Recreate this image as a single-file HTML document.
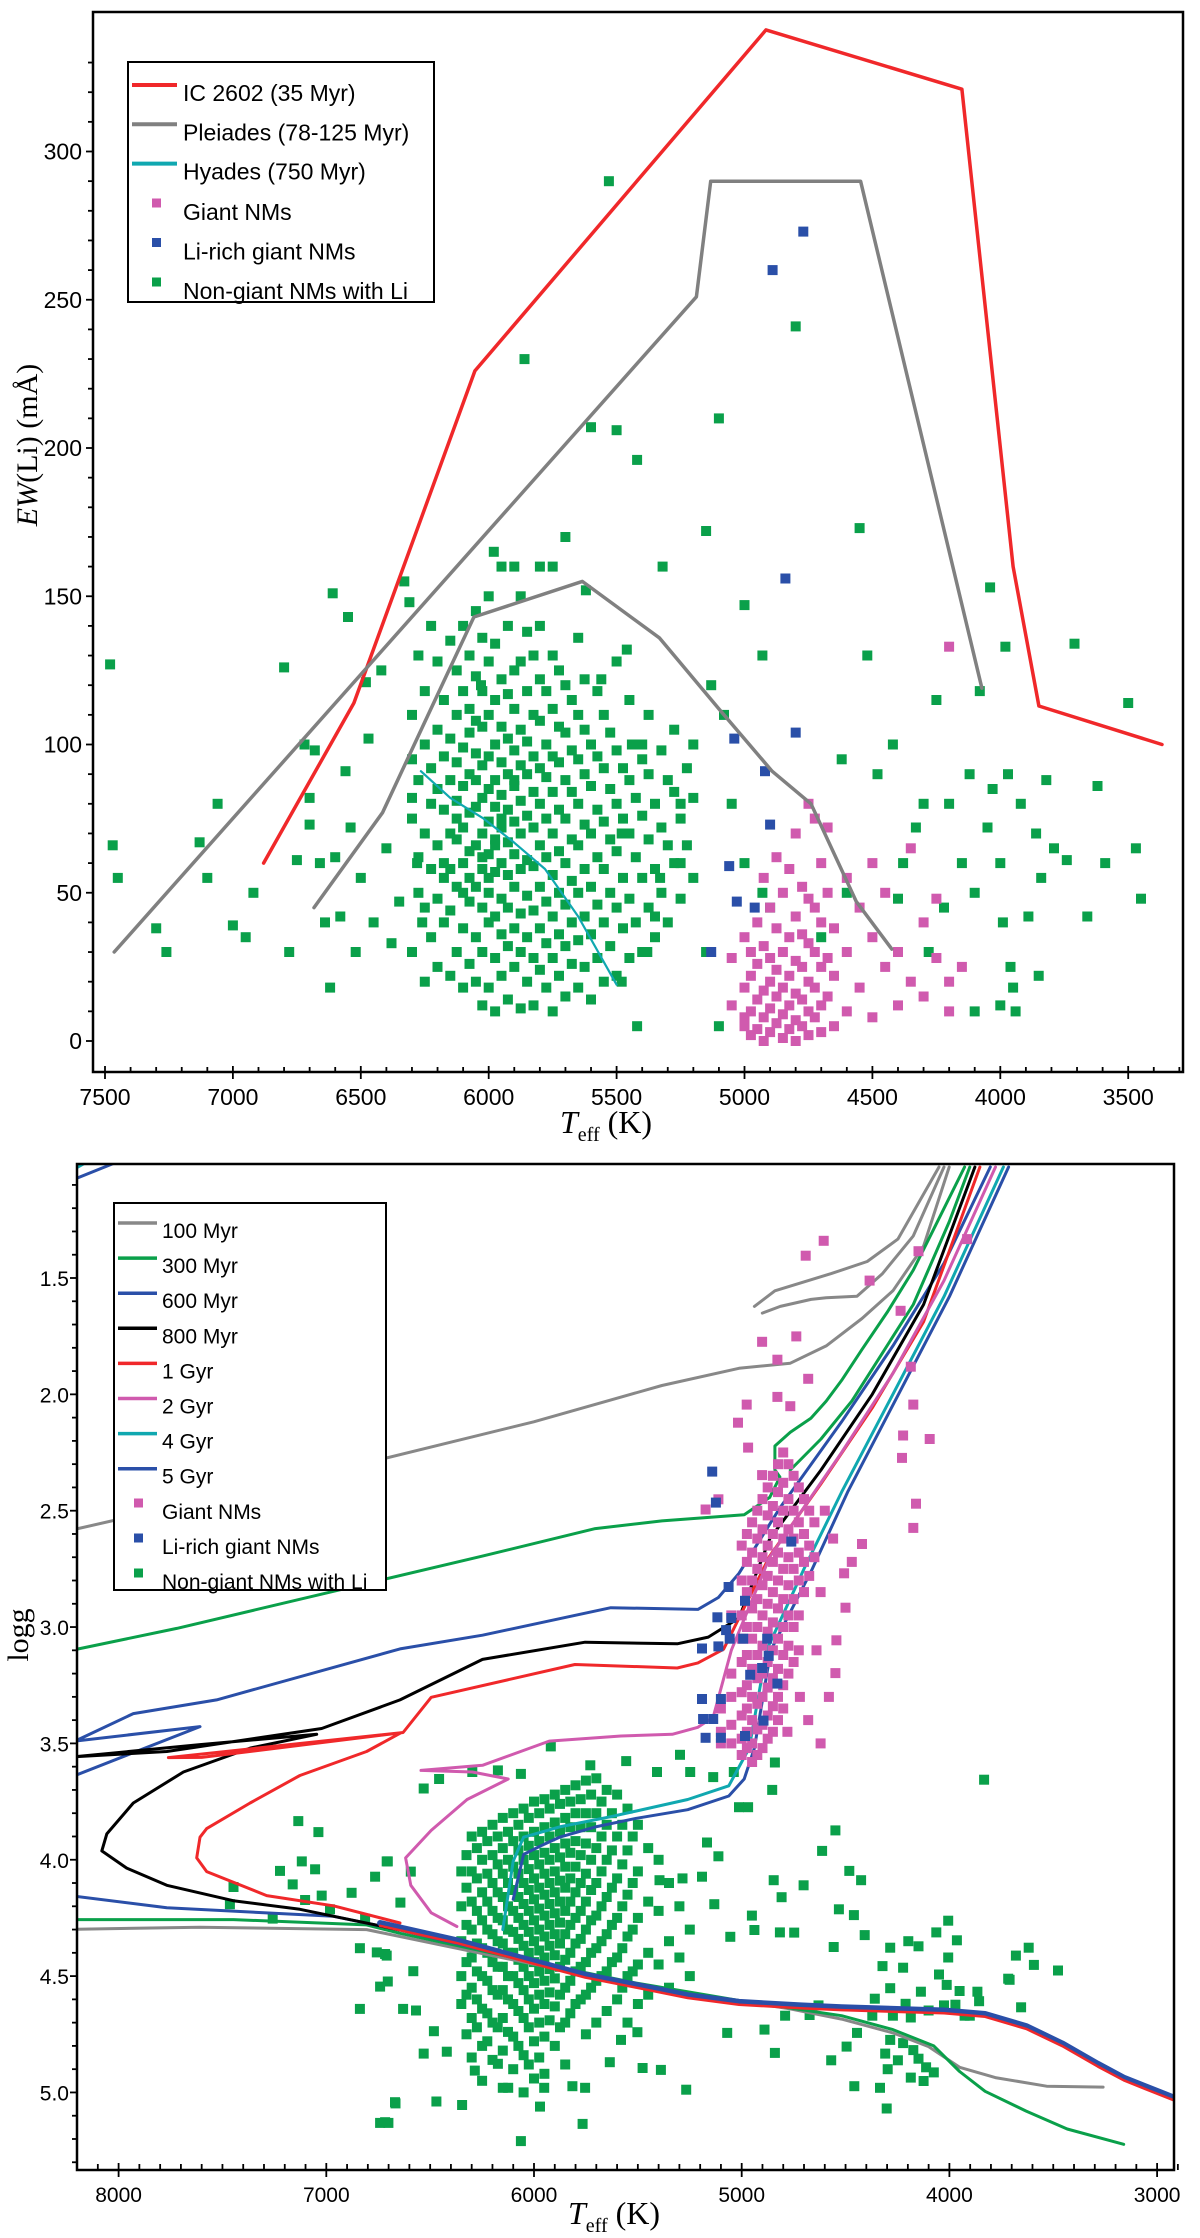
<!DOCTYPE html>
<html><head><meta charset="utf-8">
<style>
html,body{margin:0;padding:0;background:#fff;}
svg{display:block;font-family:"Liberation Sans",Arial,sans-serif;}
</style></head>
<body>
<svg id="fig" xmlns="http://www.w3.org/2000/svg" width="1200" height="2238" viewBox="0 0 1200 2238">
<defs>
<clipPath id="clipTop"><rect x="93" y="12" width="1090" height="1060"/></clipPath>
<clipPath id="clipBot"><rect x="77" y="1164" width="1097" height="1006"/></clipPath>
</defs>
<g id="topChart"></g>
<g id="botChart"></g>
</svg>
<script>
// ===== TOP CHART DATA =====
const topYTicks = [0, 50, 100, 150, 200, 250, 300];
const topXTicks = [7500, 7000, 6500, 6000, 5500, 5000, 4500, 4000, 3500];
const ic2602T = [6880, 6527, 6054, 4916, 4150, 3950, 3849, 3368];
const ic2602EW = [60, 114, 226, 341, 321, 160, 113, 100];
const pleiadesUpperT = [7464, 5188, 5132, 4546, 4072];
const pleiadesUpperEW = [30, 251, 290, 290, 119];
const pleiadesLowerT = [6683, 6415, 6237, 6058, 5634, 5333, 5100, 4892, 4740, 4563, 4424];
const pleiadesLowerEW = [45, 77, 110, 143, 155, 136, 112, 91, 80, 47, 31];
const hyadesT = [6265, 6150, 6020, 5902, 5780, 5650, 5500];
const hyadesEW = [91, 82, 75, 67, 58, 42, 19];
const topGreenScatter = [[7480,127],[7470,66],[7450,55],[7300,38],[7260,30],[7130,67],[7100,55],[7060,80],[7000,39],[6950,35],[6920,50],[6800,126],[6780,30],[6750,61],[6720,100],[6700,73],[6700,82],[6680,98],[6660,60],[6640,40],[6620,18],[6610,151],[6600,62],[6580,42],[6560,91],[6550,143],[6540,72],[6520,30],[6500,55],[6480,121],[6470,102],[6450,40],[6420,125],[6400,65],[6380,33],[6350,47],[6330,155],[6310,148],[6300,82],[6280,60],[6260,40],[5860,230],[5750,160],[5600,207],[5530,290],[5500,206],[5420,196],[5400,100],[5320,160],[5250,80],[5150,172],[5100,210],[5080,110],[5000,147],[4930,130],[4800,241],[4600,50],[4550,173],[4520,130],[4480,90],[4400,48],[4380,60],[4300,80],[4250,115],[4200,80],[4150,60],[4120,90],[4100,50],[4080,118],[4050,72],[4040,153],[4030,85],[4000,60],[3990,40],[3980,133],[3960,25],[3950,18],[3920,80],[3890,42],[3860,70],[3850,22],[3840,55],[3820,88],[3790,65],[3740,61],[3710,134],[3660,42],[3620,86],[3590,60],[3500,114],[3470,65],[3450,48],[4100,10],[4000,12],[3940,10],[3970,90],[4220,45],[4280,30],[4330,72],[4420,100],[4620,95],[4700,35],[4900,45],[5100,5],[5150,30],[5130,120],[5000,60],[4930,50],[5050,80],[5200,100],[5250,60],[5350,42],[5420,5],[5480,20],[5380,30],[5440,100],[5460,132],[5560,122],[5620,152],[5700,170],[5800,160],[5900,160],[5980,165],[6030,120],[5480,70],[5330,55]];
const topGreenCore = [[6300,[30,75,110,95]],[6275,[50,88,130,62]],[6250,[20,70,100,45,118]],[6225,[35,58,92,140,80]],[6200,[25,66,85,105,48,128]],[6175,[40,55,78,96,115,60]],[6150,[22,44,70,88,102,135,58]],[6125,[30,52,68,81,94,110,125,75]],[6100,[18,38,60,72,86,99,118,140,50]],[6075,[26,47,64,77,90,104,112,130,55]],[6050,[20,35,52,66,79,88,97,108,123,145]],[6025,[12,30,45,58,70,82,93,106,118,136,62]],[6000,[18,40,50,63,74,85,96,110,128,150,55]],[5975,[10,28,42,57,68,79,88,100,115,134,66]],[5950,[22,36,48,60,72,83,94,106,122,160,75]],[5925,[14,32,45,56,67,78,90,102,117,140]],[5900,[25,38,52,63,74,86,98,112,125,88]],[5875,[11,30,43,58,70,81,93,105,128,150]],[5850,[20,35,49,61,76,90,101,118,138]],[5825,[12,28,44,59,72,84,96,110,130]],[5800,[24,38,52,66,80,92,108,122,140]],[5775,[18,33,47,62,75,89,100,118]],[5750,[10,28,42,56,70,84,96,112,130]],[5725,[22,36,50,64,78,94,106,125]],[5700,[15,32,46,60,75,88,104,120]],[5675,[26,40,54,68,84,98,115]],[5650,[18,34,50,66,80,95,110,136]],[5625,[25,42,58,73,90,105,122]],[5600,[14,36,52,70,86,100]],[5575,[28,46,62,78,96,118]],[5550,[20,40,58,74,92,110]],[5525,[32,50,68,85,104]],[5500,[22,45,64,80,98,128]],[5475,[38,55,75,92]],[5450,[28,48,70,88,115]],[5425,[40,62,82,100]],[5400,[30,55,76,95]],[5375,[45,68,90,110]],[5350,[35,58,80]],[5325,[50,72,98]],[5300,[40,66,88]],[5275,[60,84,105]],[5250,[48,75]],[5225,[66,92]],[5200,[55,82]]];
const topGiants = [[5050,[12,28]],[5000,[5,18,35,8]],[4975,[2,10,22,30]],[4950,[4,14,26,40]],[4925,[0,8,17,32,55]],[4900,[3,11,20,28,45]],[4875,[6,15,24,38,62]],[4850,[1,9,18,30,50]],[4825,[4,12,22,35,58]],[4800,[0,7,16,27,42,70]],[4775,[5,14,25,36,52]],[4750,[2,10,20,33,48,80]],[4725,[8,18,30,45,75]],[4700,[3,12,25,40,60]],[4675,[15,28,50,72]],[4650,[5,22,38]],[4600,[10,30,55]],[4550,[18,45]],[4500,[8,35,60]],[4450,[25,50]],[4400,[12,30]],[4350,[20,65]],[4300,[15,40]],[4250,[28,48]],[4200,[133,20,10]],[4150,[25]]];
const topLiRich = [[4770,273],[4890,260],[4840,156],[4800,104],[5040,102],[4920,91],[4900,73],[5060,59],[5030,47],[4960,45],[5130,30]];

// ===== BOTTOM CHART DATA =====
const botYTicks = [1.5, 2.0, 2.5, 3.0, 3.5, 4.0, 4.5, 5.0];
const botXTicks = [8000, 7000, 6000, 5000, 4000, 3000];
const msBundleT = [6741, 6371, 6001, 5754, 5507, 5260, 5013, 4717, 4519, 4272, 4026, 3828, 3630, 3457, 3285, 3161, 3038, 2890];
const msBundleG = [4.272, 4.346, 4.435, 4.494, 4.538, 4.582, 4.611, 4.626, 4.634, 4.641, 4.648, 4.663, 4.715, 4.789, 4.877, 4.936, 4.98, 5.032];
const iso100UpperT = [8210, 6741, 6001, 5384, 5013, 4766, 4593, 4421, 4272, 4124, 4001];
const iso100UpperG = [2.58, 2.28, 2.118, 1.962, 1.888, 1.866, 1.792, 1.674, 1.555, 1.363, 1.023];
const iso100HookT = [4901, 4814, 4666, 4593, 4445, 4322, 4174, 4026];
const iso100HookG = [1.651, 1.622, 1.592, 1.585, 1.578, 1.481, 1.319, 1.023];
const iso100Hook2T = [4939, 4840, 4569, 4396, 4248, 4050];
const iso100Hook2G = [1.622, 1.555, 1.481, 1.429, 1.333, 1.023];
const iso100LowerT = [8210, 7608, 6806, 6645, 6001, 5507, 4766, 4519, 4272, 4100, 3951, 3779, 3532, 3260];
const iso100LowerG = [4.299, 4.29, 4.30, 4.33, 4.449, 4.538, 4.641, 4.685, 4.744, 4.803, 4.892, 4.936, 4.973, 4.977];
const iso300UpperT = [8210, 7720, 6741, 6248, 5705, 5384, 4988, 4865, 4816, 4840, 4840, 4766, 4667, 4593, 4519, 4421, 4297, 4174, 4075, 3927];
const iso300UpperG = [3.097, 3.006, 2.799, 2.695, 2.577, 2.544, 2.517, 2.443, 2.355, 2.325, 2.222, 2.163, 2.103, 2.029, 1.94, 1.807, 1.644, 1.466, 1.289, 1.023];
const iso300Upper2T = [4766, 4618, 4470, 4322, 4174, 4001, 3902];
const iso300Upper2G = [2.325, 2.192, 2.029, 1.822, 1.614, 1.259, 1.023];
const iso300LowerT = [8210, 7447, 6806, 6645, 6001, 5507, 5013, 4519, 4272, 4075, 3951, 3828, 3630, 3433, 3161];
const iso300LowerG = [4.257, 4.257, 4.28, 4.316, 4.44, 4.53, 4.605, 4.67, 4.73, 4.80, 4.91, 4.995, 5.08, 5.157, 5.223];
const iso600T = [8210, 7608, 8210, 7929, 7528, 6645, 6248, 5630, 5211, 5112, 5013, 4816, 4519, 4272, 4026, 3803];
const iso600G = [3.638, 3.428, 3.49, 3.372, 3.313, 3.094, 3.035, 2.917, 2.924, 2.873, 2.769, 2.488, 2.118, 1.792, 1.437, 1.023];
const iso600LowerT = [8210, 7768, 6966, 6645, 6371, 6001];
const iso600LowerG = [4.157, 4.206, 4.243, 4.302, 4.36, 4.44];
const iso800T = [6645, 7127, 7448, 7768, 7961, 8081, 8057, 7929, 7688, 7367, 7046, 7608, 8210, 7768, 7022, 6645, 6248, 5754, 5310, 5161, 5013, 4865, 4618, 4371, 4124, 3877];
const iso800G = [4.302, 4.213, 4.176, 4.11, 4.036, 3.962, 3.889, 3.756, 3.623, 3.52, 3.461, 3.505, 3.557, 3.535, 3.436, 3.313, 3.139, 3.065, 3.072, 3.043, 2.961, 2.621, 2.325, 2.0, 1.614, 1.023];
const iso1GyrT = [6645, 6966, 7287, 7576, 7624, 7608, 7576, 7367, 7127, 6806, 6640, 7760, 7600, 6630, 6495, 5803, 5310, 5211, 5087, 4865, 4618, 4371, 4124, 3853];
const iso1GyrG = [4.272, 4.198, 4.154, 4.051, 3.992, 3.903, 3.866, 3.756, 3.638, 3.535, 3.454, 3.561, 3.56, 3.453, 3.302, 3.161, 3.176, 3.154, 3.095, 2.695, 2.384, 2.058, 1.688, 1.023];
const iso2GyrT = [6371, 6495, 6593, 6618, 6495, 6322, 6124, 6297, 6544, 6248, 5927, 5581, 5334, 5211, 5137, 5050, 4865, 4519, 4272, 4026, 3778];
const iso2GyrG = [4.287, 4.228, 4.11, 3.992, 3.874, 3.741, 3.653, 3.623, 3.616, 3.594, 3.49, 3.468, 3.461, 3.431, 3.387, 3.1, 2.7, 2.25, 1.91, 1.511, 1.023];
const iso4GyrT = [6150, 6100, 6050, 5877, 5630, 5260, 5062, 4964, 4880, 4700, 4519, 4272, 4026, 3740];
const iso4GyrG = [4.3, 4.006, 3.903, 3.859, 3.815, 3.741, 3.682, 3.52, 3.1, 2.75, 2.42, 2.0, 1.58, 1.023];
const iso5GyrT = [6100, 6050, 5951, 5877, 5704, 5507, 5260, 5062, 4988, 4939, 4860, 4660, 4490, 4245, 4000, 3715];
const iso5GyrG = [4.17, 3.977, 3.933, 3.903, 3.859, 3.822, 3.785, 3.726, 3.653, 3.52, 3.1, 2.75, 2.42, 2.0, 1.58, 1.023];
const cornerCyanT = [8210, 8150];
const cornerCyanG = [1.03, 1.0];
const cornerBlueT = [8210, 8025];
const cornerBlueG = [1.074, 1.008];
const botGiantScatter = [[4605,1.34],[4692,1.404],[4149,1.385],[3915,1.333],[4384,1.511],[4235,1.641],[4902,1.774],[4737,1.751],[4828,1.851],[4680,1.933],[4976,2.044],[4828,2.011],[4766,2.051],[5018,2.122],[4969,2.229],[4174,2.044],[4186,1.881],[4223,2.177],[4095,2.192],[4161,2.47],[4174,2.574],[4228,2.273],[4421,2.643],[4470,2.72],[4507,2.769],[4544,3.057],[4549,3.198],[4500,2.917],[5174,2.495],[5112,2.451],[4902,2.347],[4600,2.5],[4560,2.62],[4620,2.85],[4580,3.3],[4640,3.1],[4680,3.4],[4720,3.3],[4780,3.45],[4620,3.5]];
const botGiantCore = [[5100,[3.35,3.45,3.5]],[5050,[2.95,3.2,3.3,3.42,3.5]],[5000,[2.65,2.8,2.95,3.05,3.15,3.28,3.38,3.48,3.55]],[4975,[2.6,2.72,2.85,3.0,3.12,3.25,3.35,3.45,3.52]],[4950,[2.55,2.68,2.8,2.92,3.05,3.18,3.3,3.4,3.5,3.58]],[4925,[2.5,2.62,2.75,2.88,3.0,3.12,3.22,3.33,3.44,3.55]],[4900,[2.45,2.58,2.7,2.82,2.95,3.08,3.2,3.3,3.42,3.52]],[4875,[2.4,2.52,2.65,2.78,2.9,3.02,3.15,3.26,3.38,3.48]],[4850,[2.35,2.48,2.6,2.72,2.85,2.98,3.1,3.22,3.34,3.45]],[4825,[2.3,2.42,2.55,2.68,2.8,2.92,3.05,3.18,3.3,3.4]],[4800,[2.25,2.38,2.5,2.62,2.75,2.88,3.0,3.12,3.25,3.35]],[4775,[2.3,2.45,2.58,2.7,2.82,2.95,3.08,3.2]],[4750,[2.35,2.5,2.62,2.75,2.88,3.0,3.15]],[4725,[2.4,2.55,2.68,2.8,2.95,3.1]],[4700,[2.45,2.6,2.72,2.85]],[4675,[2.5,2.65,2.78]],[4650,[2.55,2.7]]];
const botLiRich = [[5142,2.332],[5124,2.465],[4761,2.633],[5063,2.828],[4984,2.887],[5117,2.958],[5050,2.961],[5075,3.013],[5058,3.05],[4993,3.05],[5191,3.092],[5112,3.083],[4877,3.05],[4870,3.124],[4902,3.176],[4959,3.205],[4828,3.243],[5191,3.309],[5100,3.309],[5186,3.395],[5137,3.395],[5174,3.476],[5100,3.476],[4984,3.468],[4895,3.402]];
const botGreenScatter = [[7135,3.834],[7038,3.881],[7118,4.007],[7223,4.048],[7162,4.106],[7054,4.041],[7447,4.117],[7464,4.191],[7102,4.173],[7022,4.154],[6982,4.213],[7258,4.253],[6878,4.142],[6765,4.073],[6709,4.007],[6813,4.253],[6838,4.38],[6757,4.398],[6709,4.412],[6741,4.545],[6838,4.641],[6669,5.042],[6741,5.131],[6701,5.131],[5729,3.594],[5556,3.576],[5297,3.549],[5919,3.513],[6174,3.616],[6063,3.631],[6297,3.623],[6457,3.653],[6531,3.694],[5408,3.623],[5248,3.623],[5137,3.645],[5038,3.623],[4840,3.582],[4853,3.7],[4969,3.774],[5013,3.774],[3833,3.656],[4549,3.874],[4613,3.962],[4482,4.048],[4425,4.088],[4846,4.088],[4702,4.11],[4808,4.161],[4532,4.213],[4460,4.238],[4951,4.24],[5132,4.191],[5191,4.073],[5285,4.08],[5396,4.088],[5112,3.985],[5167,3.926],[4006,4.262],[4063,4.312],[3964,4.346],[4408,4.324],[4747,4.313],[4816,4.312],[4939,4.302],[5055,4.331],[4198,4.35],[4149,4.372],[4285,4.378],[4557,4.375],[3680,4.412],[3618,4.378],[3593,4.452],[3477,4.476],[3717,4.511],[4006,4.42],[4050,4.493],[4013,4.538],[3951,4.564],[3865,4.567],[3857,4.608],[3927,4.67],[4026,4.626],[4137,4.567],[4211,4.619],[4285,4.552],[4322,4.457],[4223,4.464],[4359,4.597],[4371,4.67],[4272,4.67],[4186,4.678],[4100,4.648],[3971,4.623],[3902,4.67],[3655,4.634],[3710,4.516],[4285,4.774],[4223,4.788],[4174,4.818],[4309,4.833],[4248,4.862],[4149,4.855],[4112,4.892],[4297,4.9],[4186,4.936],[4075,4.914],[4334,4.98],[4124,4.951],[4458,4.973],[4302,5.069],[4569,4.862],[4495,4.803],[4445,4.744],[4840,4.83],[4890,4.73],[4791,4.67],[4673,4.667],[4630,4.626],[5070,4.744],[5267,4.988],[5389,4.903],[5477,4.895],[5635,4.87],[5502,4.741],[5581,4.774],[5754,4.98],[5815,4.973],[5951,4.98],[5971,5.061],[5766,5.135],[6063,5.209],[6346,5.054],[6470,5.039],[6667,5.047],[6717,5.128],[6174,4.877],[6124,4.98],[6285,4.906],[6420,4.825],[6531,4.833],[6482,4.737],[6630,4.641],[6568,4.648],[6704,4.523],[6581,4.479],[6717,4.405],[6643,4.184],[6704,4.007],[6593,4.051]];
const botGreenCore = [[6350,[4.05,4.2,4.35,4.5,4.62]],[6325,[3.98,4.12,4.28,4.44,4.58,4.75]],[6300,[3.9,4.05,4.18,4.3,4.42,4.55,4.68,4.85]],[6275,[3.95,4.08,4.22,4.36,4.48,4.6,4.72]],[6250,[3.88,4.0,4.14,4.26,4.38,4.5,4.64,4.8,4.95]],[6225,[3.92,4.06,4.18,4.3,4.4,4.52,4.66,4.78]],[6200,[3.85,3.98,4.1,4.22,4.32,4.44,4.56,4.7,4.86]],[6175,[3.9,4.02,4.14,4.25,4.35,4.46,4.58,4.72]],[6150,[3.82,3.95,4.06,4.16,4.26,4.36,4.46,4.56,4.68,4.82,4.98]],[6125,[3.88,4.0,4.1,4.2,4.3,4.4,4.5,4.6,4.74]],[6100,[3.8,3.92,4.03,4.13,4.22,4.31,4.4,4.5,4.62,4.76,4.9]],[6075,[3.85,3.96,4.06,4.16,4.25,4.34,4.43,4.53,4.65,4.8]],[6050,[3.78,3.9,4.0,4.1,4.19,4.28,4.37,4.46,4.56,4.68,4.84,5.0]],[6025,[3.82,3.94,4.04,4.13,4.22,4.31,4.4,4.5,4.6,4.72,4.88]],[6000,[3.75,3.88,3.98,4.08,4.17,4.26,4.35,4.44,4.53,4.64,4.78,4.94]],[5975,[3.8,3.92,4.02,4.12,4.21,4.3,4.39,4.48,4.58,4.7,4.85]],[5950,[3.74,3.86,3.97,4.06,4.15,4.24,4.33,4.42,4.52,4.62,4.76,4.92]],[5925,[3.78,3.9,4.0,4.1,4.19,4.28,4.37,4.47,4.57,4.69]],[5900,[3.72,3.84,3.95,4.05,4.14,4.23,4.32,4.41,4.51,4.63,4.8]],[5875,[3.76,3.88,3.99,4.09,4.18,4.27,4.36,4.46,4.58,4.72]],[5850,[3.7,3.82,3.93,4.03,4.12,4.22,4.32,4.43,4.55,4.7,4.88]],[5825,[3.75,3.86,3.97,4.08,4.18,4.28,4.4,4.52,4.66]],[5800,[3.68,3.8,3.92,4.03,4.14,4.25,4.36,4.48,4.62]],[5775,[3.74,3.86,3.98,4.1,4.22,4.34,4.46,4.6]],[5750,[3.66,3.8,3.93,4.06,4.18,4.3,4.44,4.58,4.75]],[5725,[3.72,3.86,4.0,4.13,4.26,4.4,4.55]],[5700,[3.65,3.8,3.95,4.1,4.24,4.38,4.52,4.7]],[5675,[3.75,3.9,4.05,4.2,4.35,4.5]],[5650,[3.7,3.85,4.0,4.16,4.32,4.48,4.65]],[5625,[3.8,3.96,4.12,4.28,4.44]],[5600,[3.72,3.9,4.08,4.25,4.42,4.6]],[5575,[3.85,4.02,4.2,4.38,4.55]],[5550,[3.78,3.96,4.15,4.33,4.5,4.7]],[5525,[3.9,4.1,4.3,4.48]],[5500,[3.85,4.05,4.25,4.45,4.62]],[5450,[3.95,4.18,4.4,4.58]],[5400,[4.0,4.22,4.45]],[5350,[4.1,4.35,4.55]],[5300,[4.2,4.42]],[5250,[4.3,4.5]]];

const NS = 'http://www.w3.org/2000/svg';
const GREEN = '#0aa04a', PINK = '#d05aae', BLUE = '#2a4fa8';
const MS = 10;
function mk(tag, attrs, parent){ const e = document.createElementNS(NS, tag); for (const k in attrs) e.setAttribute(k, attrs[k]); parent.appendChild(e); return e; }

function xTop(T){ return 105 + (7500 - T) * 0.2558; }
function yTop(v){ return 1041 - 2.965 * v; }
function xBot(T){ return 118.6 + (8000 - T) * 0.2077; }
function yBot(g){ return 1278 + (g - 1.5) * 232.7; }

function drawLine(parent, Ts, Vs, fx, fy, color, w, name){
  const pts = Ts.map((t,i)=> fx(t).toFixed(1)+','+fy(Vs[i]).toFixed(1)).join(' ');
  const p = mk('polyline', {points: pts, fill:'none', stroke: color, 'stroke-width': w, 'stroke-linejoin':'round', 'stroke-linecap':'round'}, parent);
  
  
}
function drawSq(parent, T, v, fx, fy, color, s, name){
  const r = mk('rect', {x:(fx(T)-s/2).toFixed(1), y:(fy(v)-s/2).toFixed(1), width:s, height:s, fill:color}, parent);
  
  
}
function txt(parent, x, y, s, attrs, name){
  const t = mk('text', Object.assign({x:x, y:y}, attrs), parent);
  t.textContent = s;
  
  
  return t;
}
function tspan(parent, s, attrs){
  const t = mk('tspan', attrs, parent);
  t.textContent = s;
  return t;
}

// ===== TOP CHART =====
const topG = document.getElementById('topChart');
const topPlot = mk('g', {'clip-path':'url(#clipTop)'}, topG);


topGreenScatter.forEach(p => drawSq(topPlot, p[0], p[1], xTop, yTop, GREEN, MS, 'nongiant-point'));
topGreenCore.forEach(c => c[1].forEach(v => drawSq(topPlot, c[0], v, xTop, yTop, GREEN, MS, 'nongiant-point')));
topGiants.forEach(c => c[1].forEach(v => drawSq(topPlot, c[0], v, xTop, yTop, PINK, MS, 'giant-point')));
topLiRich.forEach(p => drawSq(topPlot, p[0], p[1], xTop, yTop, BLUE, MS, 'li-rich-giant-point'));
drawLine(topPlot, ic2602T, ic2602EW, xTop, yTop, '#f0282a', 3.5, 'ic2602-line');
drawLine(topPlot, pleiadesUpperT, pleiadesUpperEW, xTop, yTop, '#808080', 3.5, 'pleiades-upper-line');
drawLine(topPlot, pleiadesLowerT, pleiadesLowerEW, xTop, yTop, '#808080', 3.5, 'pleiades-lower-line');
drawLine(topPlot, hyadesT, hyadesEW, xTop, yTop, '#10a8b0', 2.2, 'hyades-line');

const topFrame = mk('rect', {x:93, y:12, width:1090, height:1060, fill:'none', stroke:'#000', 'stroke-width':2.5}, topG);


for (let v = 0; v <= 330; v += 10) {
  const maj = v % 50 === 0;
  const tk = mk('line', {x1: maj ? 86 : 88, x2: 93, y1: yTop(v), y2: yTop(v), stroke:'#000', 'stroke-width':1.8}, topG);
  
  
}
topYTicks.forEach(v => txt(topG, 82, yTop(v)+8, String(v), {'font-size':23, 'text-anchor':'end'}, 'y-tick-label'));
for (let T = 7500; T >= 3300; T -= 100) {
  const maj = T % 500 === 0;
  const tk = mk('line', {x1: xTop(T), x2: xTop(T), y1: maj ? 1066 : 1067, y2: maj ? 1079 : 1072, stroke:'#000', 'stroke-width':1.8}, topG);
  
  
}
topXTicks.forEach(T => txt(topG, xTop(T), 1105, String(T), {'font-size':23, 'text-anchor':'middle'}, 'x-tick-label'));
const ytT = txt(topG, 0, 0, '', {'font-size':30, 'font-family':'"Liberation Serif",serif', transform:'translate(37,445) rotate(-90)', 'text-anchor':'middle'}, 'y-axis-title');
tspan(ytT, 'EW', {'font-style':'italic'});
tspan(ytT, '(Li) (mÅ)', {});
const xtT = txt(topG, 560, 1133, '', {'font-size':32, 'font-family':'"Liberation Serif",serif'}, 'x-axis-title');
tspan(xtT, 'T', {'font-style':'italic'});
tspan(xtT, 'eff', {'font-size':20, dy:8});
tspan(xtT, ' (K)', {dy:-8});

const tleg = mk('g', {}, topG);


mk('rect', {x:128, y:62, width:306, height:240, fill:'#fff', stroke:'#000', 'stroke-width':2}, tleg);
const topLegLines = [['#f0282a','IC 2602 (35 Myr)'],['#808080','Pleiades (78-125 Myr)'],['#10a8b0','Hyades (750 Myr)']];
topLegLines.forEach((e,i) => {
  const y = 85 + i*39.3;
  const l = mk('line', {x1:132, x2:177, y1:y, y2:y, stroke:e[0], 'stroke-width':4}, tleg);
  
  
  txt(tleg, 183, y+16, e[1], {'font-size':23}, 'legend-entry');
});
const topLegPts = [[PINK,'Giant NMs'],[BLUE,'Li-rich giant NMs'],[GREEN,'Non-giant NMs with Li']];
topLegPts.forEach((e,i) => {
  const y = 203 + i*39.5;
  const r = mk('rect', {x:152, y:y-4.5, width:9, height:9, fill:e[0]}, tleg);
  
  
  txt(tleg, 183, y+17, e[1], {'font-size':23}, 'legend-entry');
});

// ===== BOTTOM CHART =====
const botG = document.getElementById('botChart');
const botPlot = mk('g', {'clip-path':'url(#clipBot)'}, botG);


botGreenCore.forEach(c => c[1].forEach(g => drawSq(botPlot, c[0], g, xBot, yBot, GREEN, MS, 'nongiant-point')));
botGreenScatter.forEach(p => drawSq(botPlot, p[0], p[1], xBot, yBot, GREEN, MS, 'nongiant-point'));
drawLine(botPlot, iso100UpperT, iso100UpperG, xBot, yBot, '#888', 3, 'iso-100myr-upper');
drawLine(botPlot, iso100HookT, iso100HookG, xBot, yBot, '#888', 3, 'iso-100myr-hook');
drawLine(botPlot, iso100Hook2T, iso100Hook2G, xBot, yBot, '#888', 3, 'iso-100myr-hook2');
drawLine(botPlot, iso100LowerT, iso100LowerG, xBot, yBot, '#888', 3, 'iso-100myr-lower');
drawLine(botPlot, iso300UpperT, iso300UpperG, xBot, yBot, '#0aa04a', 3, 'iso-300myr-upper');
drawLine(botPlot, iso300Upper2T, iso300Upper2G, xBot, yBot, '#0aa04a', 3, 'iso-300myr-upper2');
drawLine(botPlot, iso300LowerT, iso300LowerG, xBot, yBot, '#0aa04a', 3, 'iso-300myr-lower');
drawLine(botPlot, iso600T, iso600G, xBot, yBot, '#2a4fa8', 3, 'iso-600myr');
drawLine(botPlot, iso600LowerT, iso600LowerG, xBot, yBot, '#2a4fa8', 3, 'iso-600myr-lower');
drawLine(botPlot, cornerBlueT, cornerBlueG, xBot, yBot, '#2a4fa8', 3, 'iso-corner-blue');
drawLine(botPlot, cornerCyanT, cornerCyanG, xBot, yBot, '#10a8b0', 3, 'iso-corner-cyan');
drawLine(botPlot, iso800T, iso800G, xBot, yBot, '#000', 3, 'iso-800myr');
drawLine(botPlot, iso1GyrT, iso1GyrG, xBot, yBot, '#f0282a', 3, 'iso-1gyr');
drawLine(botPlot, iso2GyrT, iso2GyrG, xBot, yBot, '#d05aae', 3, 'iso-2gyr');
drawLine(botPlot, iso4GyrT, iso4GyrG, xBot, yBot, '#10a8b0', 3, 'iso-4gyr');
drawLine(botPlot, iso5GyrT, iso5GyrG, xBot, yBot, '#2a4fa8', 3, 'iso-5gyr');
drawLine(botPlot, msBundleT, msBundleG, xBot, yBot, '#2a4fa8', 6, 'iso-main-sequence-blue');
drawLine(botPlot, msBundleT, msBundleG.map(g => g + 0.012), xBot, yBot, '#f0282a', 2.5, 'iso-main-sequence-red');
botGiantCore.forEach(c => c[1].forEach(g => drawSq(botPlot, c[0], g, xBot, yBot, PINK, MS, 'giant-point')));
botGiantScatter.forEach(p => drawSq(botPlot, p[0], p[1], xBot, yBot, PINK, MS, 'giant-point'));
botLiRich.forEach(p => drawSq(botPlot, p[0], p[1], xBot, yBot, BLUE, MS, 'li-rich-giant-point'));

const botFrame = mk('rect', {x:77, y:1164, width:1097, height:1006, fill:'none', stroke:'#000', 'stroke-width':2.5}, botG);


for (let i = 11; i <= 53; i++) {
  const g = i/10;
  const maj = i % 5 === 0;
  const tk = mk('line', {x1: maj ? 70 : 72, x2: 77, y1: yBot(g), y2: yBot(g), stroke:'#000', 'stroke-width':1.8}, botG);
  
  
}
botYTicks.forEach(g => txt(botG, 69, yBot(g)+8, g.toFixed(1), {'font-size':21, 'text-anchor':'end'}, 'y-tick-label'));
for (let T = 8200; T >= 2900; T -= 100) {
  const maj = T % 1000 === 0;
  const tk = mk('line', {x1: xBot(T), x2: xBot(T), y1: maj ? 2163 : 2164, y2: maj ? 2177 : 2170, stroke:'#000', 'stroke-width':1.8}, botG);
  
  
}
botXTicks.forEach(T => txt(botG, xBot(T), 2202, String(T), {'font-size':21, 'text-anchor':'middle'}, 'x-tick-label'));
txt(botG, 0, 0, 'logg', {'font-size':30, 'font-family':'"Liberation Serif",serif', transform:'translate(28,1635) rotate(-90)', 'text-anchor':'middle'}, 'y-axis-title');
const xtB = txt(botG, 568, 2224, '', {'font-size':32, 'font-family':'"Liberation Serif",serif'}, 'x-axis-title');
tspan(xtB, 'T', {'font-style':'italic'});
tspan(xtB, 'eff', {'font-size':20, dy:8});
tspan(xtB, ' (K)', {dy:-8});

const bleg = mk('g', {}, botG);


mk('rect', {x:114, y:1203, width:272, height:387, fill:'#fff', stroke:'#000', 'stroke-width':2}, bleg);
const botLegLines = [['#888','100 Myr'],['#0aa04a','300 Myr'],['#2a4fa8','600 Myr'],['#000','800 Myr'],['#f0282a','1 Gyr'],['#d05aae','2 Gyr'],['#10a8b0','4 Gyr'],['#2a4fa8','5 Gyr']];
botLegLines.forEach((e,i) => {
  const y = 1223 + i*35.1;
  const l = mk('line', {x1:118, x2:157, y1:y, y2:y, stroke:e[0], 'stroke-width':3.5}, bleg);
  
  
  txt(bleg, 162, y+15, e[1], {'font-size':21}, 'legend-entry');
});
const botLegPts = [[PINK,'Giant NMs'],[BLUE,'Li-rich giant NMs'],[GREEN,'Non-giant NMs with Li']];
botLegPts.forEach((e,i) => {
  const y = 1503 + i*35;
  const r = mk('rect', {x:134, y:y-4.5, width:9, height:9, fill:e[0]}, bleg);
  
  
  txt(bleg, 162, y+16, e[1], {'font-size':21}, 'legend-entry');
});
</script>
</body></html>
